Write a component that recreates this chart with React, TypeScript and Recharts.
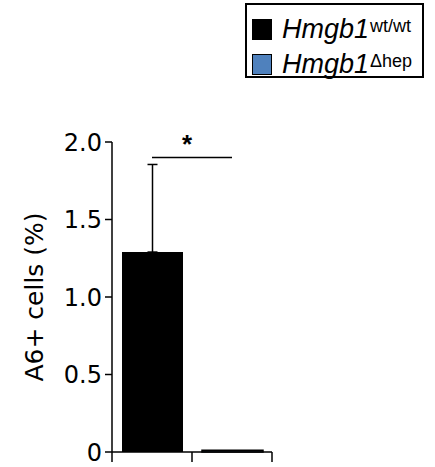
import { BarChart, Bar, XAxis, YAxis, ErrorBar, Legend, ReferenceLine } from 'recharts'

const categories = ['wt/wt', 'Δhep']
const wtValues = [1.29, null]
const hepValues = [null, 0.012]
const wtErrors = [[0, 0.565], null]
const yTicks = [0, 0.5, 1, 1.5, 2]
const seriesNames = ['Hmgb1', 'Hmgb1']
const seriesSups = ['wt/wt', 'Δhep']
const seriesColors = ['#000000', '#4f81bd']
const sigY = 1.9
const sigLabel = '*'

const data = categories.map((c, i) => ({
  group: c,
  wt: wtValues[i],
  hep: hepValues[i],
  wtErr: wtErrors[i],
}))

const legendFont = '"Liberation Sans", Arial, sans-serif'
const axisFont = '"DejaVu Sans", sans-serif'

// tick marks sit on the category boundaries, not the centres
const BoundaryTick = (props: any) => {
  const { x, y, index } = props
  const half = 40
  return (
    <g>
      {index === 0 && <line x1={x - half} y1={y} x2={x - half} y2={y + 10} stroke="#000" strokeWidth={1.5} />}
      <line x1={x + half} y1={y} x2={x + half} y2={y + 10} stroke="#000" strokeWidth={1.5} />
    </g>
  )
}

const LegendBox = (props: any) => {
  const { payload = [] } = props
  return (
    <div
      style={{
        border: '2px solid #000',
        boxSizing: 'border-box',
        width: 179,
        height: 75,
        padding: '7px 0 0 5px',
        fontFamily: legendFont,
        background: '#fff',
      }}
    >
      {payload.map((p: any, i: number) => (
        <div key={i} style={{ display: 'flex', alignItems: 'center', height: 35, lineHeight: 1 }}>
          <span
            style={{
              display: 'inline-block',
              width: 20,
              height: 21,
              background: p.color,
              border: '1.5px solid #000',
              boxSizing: 'border-box',
              marginRight: 10,
            }}
          />
          <span style={{ fontSize: 27, fontStyle: 'italic', color: '#000' }}>{seriesNames[i]}</span>
          <span style={{ fontSize: 18, color: '#000', alignSelf: 'flex-start', marginTop: 5, marginLeft: 1 }}>
            {seriesSups[i]}
          </span>
        </div>
      ))}
    </div>
  )
}

export default function App() {
  return (
    <div style={{ position: 'absolute', left: 0, top: 0, width: 435, height: 467, background: '#fff' }}>
      <BarChart
        width={435}
        height={467}
        data={data}
        margin={{ top: 142, right: 163, bottom: 0, left: 0 }}
        barSize={61}
      >
        <XAxis
          dataKey="group"
          height={15}
          tickSize={0}
          tickMargin={0}
          tickLine={false}
          axisLine={{ stroke: '#000', strokeWidth: 1.5 }}
          tick={<BoundaryTick />}
          interval={0}
        />
        <YAxis
          domain={[0, 2]}
          ticks={yTicks}
          interval={0}
          width={112}
          tickSize={7}
          tickMargin={3}
          tickFormatter={(v: number) => (v === 0 ? '0' : v.toFixed(1))}
          axisLine={{ stroke: '#000', strokeWidth: 1.5 }}
          tickLine={{ stroke: '#000', strokeWidth: 1.5 }}
          tick={{ fill: '#000', fontSize: 24, fontFamily: axisFont }}
          label={{
            value: 'A6+ cells (%)',
            angle: -90,
            position: 'insideLeft',
            offset: 34,
            fontSize: 25,
            fontFamily: axisFont,
            fill: '#000',
            style: { textAnchor: 'middle', fontSize: 25, fontFamily: axisFont, fill: '#000' },
          }}
        />
        <Legend
          layout="horizontal"
          verticalAlign="middle"
          align="center"
          content={<LegendBox />}
          wrapperStyle={{ left: 245, top: 3, width: 179, height: 75 }}
        />
        <Bar dataKey="wt" name="Hmgb1 wt/wt" stackId="a" fill={seriesColors[0]} isAnimationActive={false}>
          <ErrorBar dataKey="wtErr" direction="y" width={5} stroke="#000" strokeWidth={1.5} />
        </Bar>
        <Bar
          dataKey="hep"
          name="Hmgb1 Δhep"
          stackId="a"
          fill={seriesColors[1]}
          stroke="#000"
          strokeWidth={1.5}
          isAnimationActive={false}
        />
        <ReferenceLine
          segment={[
            { x: categories[0], y: sigY },
            { x: categories[1], y: sigY },
          ]}
          stroke="#000"
          strokeWidth={1.5}
          label={{
            value: sigLabel,
            position: 'top',
            offset: 5,
            dx: -5,
            fill: '#000',
            fontSize: 26,
            fontWeight: 'bold',
            fontFamily: legendFont,
          }}
        />
      </BarChart>
    </div>
  )
}
